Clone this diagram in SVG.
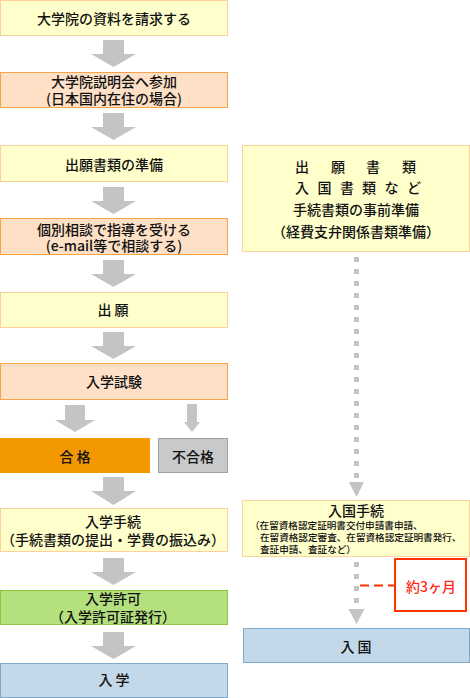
<svg xmlns="http://www.w3.org/2000/svg" width="470" height="698" viewBox="0 0 470 698">
<style>
text{font-family:"Noto Sans CJK JP","Noto Sans",sans-serif;font-size:14px;fill:#111111;font-weight:500}
.m{text-anchor:middle}
.s{font-size:9.6px}
.yel{fill:#ffffcc;stroke:#fcd19c;stroke-width:1}
.pch{fill:#fde0c6;stroke:#f7a34a;stroke-width:1}
.org{fill:#f39800}
.gry{fill:#c9c9c9;stroke:#a0a0a0;stroke-width:1}
.grn{fill:#b5e07e;stroke:#8cc63f;stroke-width:1}
.blu{fill:#c3d8e8;stroke:#7ea9cb;stroke-width:1}
.arw{fill:#c4c4c4}
.red{fill:#ff2a14}
</style>
<g id="connectors">
<path class="arw" d="M103,40H124V54H136L113.5,67L91,54H103Z"/>
<path class="arw" d="M103,113H124V127H136L113.5,140L91,127H103Z"/>
<path class="arw" d="M103,187H124V201H136L113.5,214L91,201H103Z"/>
<path class="arw" d="M103,260H124V274H136L113.5,287L91,274H103Z"/>
<path class="arw" d="M103,332H124V346H136L113.5,359L91,346H103Z"/>
<path class="arw" d="M65,405H85V420H95L75,432L55,420H65Z"/>
<path class="arw" d="M187,404H197V422H200L192,432L184,422H187Z"/>
<path class="arw" d="M103,477H124V491H136L113.5,505L91,491H103Z"/>
<path class="arw" d="M103,558H124V572H136L113.5,585L91,572H103Z"/>
<path class="arw" d="M103,632H124V646H136L113.5,659L91,646H103Z"/>
<g class="arw">
<rect x="354" y="257" width="5" height="5"/><rect x="354" y="269" width="5" height="5"/><rect x="354" y="281" width="5" height="5"/><rect x="354" y="293" width="5" height="5"/><rect x="354" y="305" width="5" height="5"/><rect x="354" y="317" width="5" height="5"/><rect x="354" y="329" width="5" height="5"/><rect x="354" y="341" width="5" height="5"/><rect x="354" y="353" width="5" height="5"/><rect x="354" y="365" width="5" height="5"/><rect x="354" y="377" width="5" height="5"/><rect x="354" y="389" width="5" height="5"/><rect x="354" y="401" width="5" height="5"/><rect x="354" y="413" width="5" height="5"/><rect x="354" y="425" width="5" height="5"/><rect x="354" y="437" width="5" height="5"/><rect x="354" y="449" width="5" height="5"/><rect x="354" y="461" width="5" height="5"/><rect x="354" y="473" width="5" height="5"/>
<path d="M349,482H364L356.5,497Z"/>
<rect x="354" y="562" width="5" height="5"/><rect x="354" y="574" width="5" height="5"/><rect x="354" y="586" width="5" height="5"/><rect x="354" y="598" width="5" height="5"/>
<path d="M348.5,609H364.5L356.5,624Z"/>
</g>
<line x1="360" y1="585.5" x2="394" y2="585.5" stroke="#ff3300" stroke-width="2" stroke-dasharray="9 5"/>
</g>
<g id="n1"><rect class="yel" x="0.5" y="0.5" width="227" height="35"/><text class="m" x="114" y="24">大学院の資料を請求する</text></g>
<g id="n2"><rect class="pch" x="0.5" y="72.5" width="227" height="35"/><text class="m" x="114" y="87">大学院説明会へ参加</text><text class="m" x="114" y="104">(日本国内在住の場合)</text></g>
<g id="n3"><rect class="yel" x="0.5" y="145.5" width="227" height="36"/><text class="m" x="114" y="170">出願書類の準備</text></g>
<g id="n4"><rect class="pch" x="0.5" y="218.5" width="227" height="36"/><text class="m" x="114" y="234.5">個別相談で指導を受ける</text><text class="m" x="114" y="250.5">(e-mail等で相談する)</text></g>
<g id="n5"><rect class="yel" x="0.5" y="292.5" width="227" height="35"/><text class="m" x="113" y="315">出 願</text></g>
<g id="n6"><rect class="pch" x="0.5" y="363.5" width="227" height="36"/><text class="m" x="114" y="387">入学試験</text></g>
<g id="n7"><rect class="org" x="0" y="438" width="150" height="35"/><text class="m" x="75" y="462">合 格</text></g>
<g id="n8"><rect class="gry" x="158.5" y="438.5" width="69" height="34"/><text class="m" x="193" y="462">不合格</text></g>
<g id="n9"><rect class="yel" x="0.5" y="508.5" width="227" height="43"/><text class="m" x="113" y="527">入学手続</text><text class="m" x="113" y="545">（手続書類の提出・学費の振込み）</text></g>
<g id="n10"><rect class="grn" x="0.5" y="590.5" width="227" height="34"/><text class="m" x="113" y="604">入学許可</text><text class="m" x="113" y="621.5">（入学許可証発行）</text></g>
<g id="n11"><rect class="blu" x="0.5" y="663.5" width="227" height="34"/><text class="m" x="114" y="685">入 学</text></g>
<g id="r1"><rect class="yel" x="242.5" y="145.5" width="227" height="106"/>
<text y="172"><tspan x="295">出</tspan><tspan x="331">願</tspan><tspan x="366">書</tspan><tspan x="402">類</tspan></text>
<text y="193"><tspan x="295">入</tspan><tspan x="317.5">国</tspan><tspan x="340">書</tspan><tspan x="362">類</tspan><tspan x="384.5">な</tspan><tspan x="407">ど</tspan></text>
<text class="m" x="356" y="215">手続書類の事前準備</text>
<text class="m" x="356" y="237">（経費支弁関係書類準備）</text></g>
<g id="r2"><rect class="yel" x="242.5" y="500.5" width="227" height="56"/>
<text class="m" x="356" y="516">入国手続</text>
<text class="s" x="250" y="529">（在留資格認定証明書交付申請書申請、</text>
<text class="s" x="260" y="541">在留資格認定審査、在留資格認定証明書発行、</text>
<text class="s" x="260" y="553">査証申請、査証など）</text></g>
<g id="r3"><rect x="395" y="559" width="71" height="52" fill="#ffffff" stroke="#ff3300" stroke-width="2"/><text class="m red" x="431" y="592">約3ヶ月</text></g>
<g id="r4"><rect class="blu" x="243.5" y="628.5" width="226" height="34"/><text class="m" x="356" y="652">入 国</text></g>
</svg>
